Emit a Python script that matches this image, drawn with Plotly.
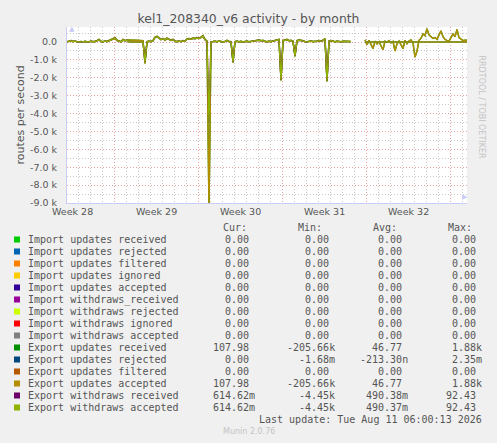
import pandas as pd
import plotly.graph_objects as go

W, H = 497, 443
L, R, T, B = 67, 30, 27, 240

# munin month graph: one sample every 4 hours, starting at the left edge
start = "2026-07-09 00:48"
step = "4h"

# routes per second, Export updates accepted (== received)
updates_accepted = [
    20, 50, 80, 30, 60, 20, 0, 30, 10, 40,
    0, 20, 50, 10, 30, 80, 150, 40, 20, 60,
    30, 80, 120, 180, 250, 100, 50, 20, 150, 80,
    120, 100, 100, 100, 100, 100, 100, 100, 80, -1200,
    20, 50, 30, 80, 280, 320, 250, 150, 200, 120,
    220, 180, 100, 150, 50, 30, 60, 20, 80, 50,
    180, 200, 170, 220, 200, 250, 220, 280, 360, 150,
    50, -9500, 20, 30, 50, 20, 60, 30, 0, 40,
    100, 30, 20, -1150, 30, 50, 20, 40, 10, 30,
    50, 20, 40, 60, 80, 100, 120, 80, 100, 40,
    20, 50, 30, 60, 80, 120, 150, -2150, 80, 120,
    150, 80, 100, 50, -800, 80, 120, 100, 50, 30,
    20, 40, 60, 30, 20, 50, 80, 60, 100, 190,
    -2200, 50, 80, 40, 20, 50, 30, 20, 40, 30,
    50, 20, 30, None, None, None, None, None, None, 120,
    -150, 100, -100, -370, 50, -100, 20, -200, -430, 50,
    0, 80, -50, 30, -500, -100, 50, -150, -370, 100,
    -100, 50, 120, -50, -840, -500, 100, 200, 450, 350,
    750, 400, 300, 200, 250, 150, 400, 620, 300, 150,
    80, 50, 250, 450, 300, 700, 250, 150, 80, 100,
    100,
]

# routes per second, Export withdraws accepted (== received)
withdraws_accepted = [
    10, 40, 60, 20, 50, 10, 0, 20, 10, 30,
    0, 10, 40, 10, 20, 60, 120, 30, 10, 50,
    20, 60, 100, 150, 200, 80, 40, 10, 120, 60,
    100, 0, 0, 0, 0, 0, 0, 0, 0, -1100,
    10, 40, 20, 60, 250, 300, 220, 130, 180, 100,
    200, 160, 80, 130, 40, 20, 50, 10, 60, 40,
    150, 180, 150, 200, 180, 220, 200, 250, 320, 120,
    40, -4450, 10, 20, 40, 10, 50, 20, 0, 30,
    80, 20, 10, -1100, 20, 40, 10, 30, 0, 20,
    40, 10, 30, 50, 70, 90, 100, 70, 80, 30,
    10, 40, 20, 50, 70, 100, 130, -2100, 70, 100,
    130, 70, 80, 40, -750, 70, 100, 80, 40, 20,
    10, 30, 50, 20, 10, 40, 70, 50, 80, 170,
    -2150, 40, 70, 30, 10, 40, 20, 10, 30, 20,
    40, 10, 20, None, None, None, None, None, None, 0,
    0, 0, 0, 0, 0, 0, 0, 0, 0, 0,
    0, 0, 0, 0, 0, 0, 0, 0, 0, 0,
    0, 0, 0, 0, 0, 0, 0, 0, 0, 0,
    0, 0, 0, 0, 0, 0, 0, 0, 0, 0,
    0, 0, 0, 0, 0, 0, 0, 0, 0, 0,
    0,
]

y_tickvals = [0, -1000, -2000, -3000, -4000, -5000, -6000, -7000, -8000, -9000]
y_ticktext = ["0.0", "-1.0 k", "-2.0 k", "-3.0 k", "-4.0 k", "-5.0 k",
              "-6.0 k", "-7.0 k", "-8.0 k", "-9.0 k"]
week_tick0 = "2026-07-06"

names = [
    "Import updates received", "Import updates rejected", "Import updates filtered",
    "Import updates ignored", "Import updates accepted", "Import withdraws_received",
    "Import withdraws rejected", "Import withdraws ignored", "Import withdraws accepted",
    "Export updates received", "Export updates rejected", "Export updates filtered",
    "Export updates accepted", "Export withdraws received", "Export withdraws accepted",
]
colors = [
    "#00CC00", "#0066B3", "#FF8000", "#FFCC00", "#330099", "#990099", "#CCFF00",
    "#FF0000", "#808080", "#008F00", "#00487D", "#B35A00", "#B38F00", "#6B006B",
    "#8FB300",
]
cur_vals = ["0.00 "] * 9 + ["107.98 ", "0.00 ", "0.00 ", "107.98 ", "614.62m", "614.62m"]
min_vals = ["0.00 "] * 9 + ["-205.66k", "-1.68m", "0.00 ", "-205.66k", "-4.45k", "-4.45k"]
avg_vals = ["0.00 "] * 9 + ["46.77 ", "-213.30n", "0.00 ", "46.77 ", "490.38m", "490.37m"]
max_vals = ["0.00 "] * 9 + ["1.88k", "2.35m", "0.00 ", "1.88k", "92.43 ", "92.43 "]

times = pd.date_range(start, periods=len(updates_accepted), freq=step)

TXT = "#555555"
RED = "#EBA2A2"
GRAY = "#CACACA"
AXIS = "#C8CCF6"
MONO = "DejaVu Sans Mono"
SANS = "DejaVu Sans"


def fx(x):
    return (x - L) / (W - L - R)


def fy(y):
    return (H - B - y) / (H - T - B)


fig = go.Figure()
for y, c in [(updates_accepted, "#008F00"), (updates_accepted, "#B38F00"),
             (withdraws_accepted, "#6B006B"), (withdraws_accepted, "#8FB300")]:
    fig.add_trace(go.Scatter(x=times, y=y, mode="lines",
                             line=dict(color=c, width=1.4), hoverinfo="skip"))

ann = []
shapes = []
ann.append(dict(text="routes per second", xref="paper", yref="paper", x=fx(11), y=fy(115),
                textangle=-90, showarrow=False, font=dict(family=SANS, size=11, color=TXT)))
ann.append(dict(text="RRDTOOL / TOBI OETIKER", xref="paper", yref="paper", x=fx(487.5), y=fy(53),
                textangle=90, showarrow=False, font=dict(family=SANS, size=8, color="#C4C4C4")))
ann.append(dict(text="▲", xref="paper", yref="paper", x=fx(67), y=fy(23),
                showarrow=False, font=dict(family=SANS, size=7, color=AXIS)))
ann.append(dict(text="▶", xref="paper", yref="paper", x=fx(470), y=fy(203),
                showarrow=False, font=dict(family=SANS, size=7, color=AXIS)))

for label, x in [("Cur:", 221), ("Min:", 296), ("Avg:", 371), ("Max:", 446)]:
    ann.append(dict(text=label, xref="paper", yref="paper", x=fx(x), y=fy(227.7),
                    xanchor="left", yanchor="middle", showarrow=False,
                    font=dict(family=MONO, size=10, color=TXT)))

for k, name in enumerate(names):
    yc = 239.5 + 12 * k
    shapes.append(dict(type="rect", xref="paper", yref="paper",
                       x0=fx(14), x1=fx(20), y0=fy(yc + 3), y1=fy(yc - 3),
                       fillcolor=colors[k], line=dict(width=0)))
    ann.append(dict(text=name, xref="paper", yref="paper", x=fx(26), y=fy(yc),
                    xanchor="left", yanchor="middle", showarrow=False,
                    font=dict(family=MONO, size=10, color=TXT)))
    for vals, xr in [(cur_vals, 257), (min_vals, 336.5), (avg_vals, 410), (max_vals, 483.5)]:
        ann.append(dict(text=vals[k].replace(" ", "\u00a0"), xref="paper", yref="paper",
                        x=fx(xr), y=fy(yc), xanchor="right", yanchor="middle",
                        showarrow=False, font=dict(family=MONO, size=10, color=TXT)))

ann.append(dict(text="Last update: Tue Aug 11 06:00:13 2026", xref="paper", yref="paper",
                x=fx(483.5), y=fy(419.7), xanchor="right", yanchor="middle", showarrow=False,
                font=dict(family=MONO, size=10, color=TXT)))
ann.append(dict(text="Munin 2.0.76", xref="paper", yref="paper", x=fx(249), y=fy(432),
                xanchor="center", yanchor="middle", showarrow=False,
                font=dict(family=SANS, size=8, color="#C4C4C4")))

fig.update_layout(
    width=W, height=H,
    margin=dict(l=L, r=R, t=T, b=B, pad=0),
    paper_bgcolor="#F0F0F0", plot_bgcolor="#FFFFFF",
    showlegend=False,
    title=dict(text="kel1_208340_v6 activity - by month", xref="container", yref="container",
               x=248.5 / W, y=1 - 19 / H, xanchor="center", yanchor="middle",
               font=dict(family=SANS, size=12.4, color=TXT)),
    xaxis=dict(type="date", range=[times[0], times[-1]],
               tick0=week_tick0, dtick=7 * 86400000, tickformat="Week %V",
               ticklabelmode="period", ticks="",
               showgrid=True, gridcolor=RED, griddash="1px,2px", gridwidth=1,
               minor=dict(dtick=86400000, tick0="2026-07-10", showgrid=True,
                          gridcolor=GRAY, griddash="1px,2px", gridwidth=1),
               showline=True, linecolor=AXIS, linewidth=1, zeroline=False,
               tickfont=dict(family=SANS, size=9.5, color=TXT)),
    yaxis=dict(range=[-9000, 840], tickmode="array", tickvals=y_tickvals, ticktext=y_ticktext,
               ticks="", ticklabelstandoff=7,
               showgrid=True, gridcolor=RED, griddash="1px,2px", gridwidth=1,
               minor=dict(dtick=500, tick0=0, showgrid=True,
                          gridcolor=GRAY, griddash="1px,2px", gridwidth=1),
               showline=True, linecolor=AXIS, linewidth=1, zeroline=False,
               tickfont=dict(family=SANS, size=9.5, color=TXT)),
    annotations=ann,
    shapes=shapes,
)

# the page body keeps its default 8px margin otherwise
fig.write_html("out.html", config={"displayModeBar": False, "staticPlot": True},
               post_script="document.body.style.margin='0';")
